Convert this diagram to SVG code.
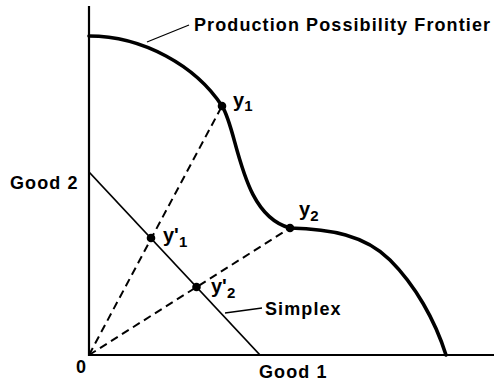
<svg xmlns="http://www.w3.org/2000/svg" width="494" height="383" viewBox="0 0 494 383">
<style>
text{font-family:"Liberation Sans",Arial,Helvetica,sans-serif;font-weight:bold;font-size:18px;letter-spacing:1.1px;fill:#000}
.lbl{font-size:20px;letter-spacing:0}
.sub{font-size:15px;letter-spacing:0}
.axis{stroke:#000;stroke-width:2.2;fill:none}
.ppf{stroke:#000;stroke-width:3.6;fill:none;stroke-linecap:round}
.thin{stroke:#000;stroke-width:1.8;fill:none}
.lead{stroke:#000;stroke-width:1.3;fill:none}
.dash{stroke:#000;stroke-width:2;fill:none;stroke-dasharray:8 5}
.dot{fill:#000}
</style>
<rect width="494" height="383" fill="#fff"/>
<g id="axes">
<line class="axis" x1="89" y1="6" x2="89" y2="356"/>
<line class="axis" x1="88" y1="355" x2="494" y2="355"/>
</g>
<g id="connectors">
<line class="dash" x1="89" y1="355" x2="222" y2="106"/>
<line class="dash" x1="89" y1="355" x2="290" y2="228"/>
<line class="lead" x1="147" y1="42" x2="189" y2="25"/>
<line class="lead" x1="225" y1="313" x2="262" y2="308"/>
</g>
<g id="frontier">
<path class="ppf" d="M89,36 C143,36 196,66 222,106 C238,130 240,215 290,228 C330,229 365,235 390,260 C415,285 435,320 446,355"/>
</g>
<g id="simplex">
<line class="thin" x1="89" y1="172" x2="260" y2="355"/>
</g>
<g id="y1"><circle class="dot" cx="222" cy="106" r="4.3"/><text class="lbl" x="233" y="107">y<tspan class="sub" dy="4">1</tspan></text></g>
<g id="y2"><circle class="dot" cx="290" cy="228" r="4.3"/><text class="lbl" x="299" y="216">y<tspan class="sub" dy="5">2</tspan></text></g>
<g id="y1p"><circle class="dot" cx="151" cy="238" r="4.3"/><text class="lbl" x="163" y="242">y'<tspan class="sub" dy="5">1</tspan></text></g>
<g id="y2p"><circle class="dot" cx="196.5" cy="287" r="4.3"/><text class="lbl" x="211" y="293">y'<tspan class="sub" dy="5">2</tspan></text></g>
<g id="labels">
<text x="194" y="31">Production Possibility Frontier</text>
<text x="265" y="315">Simplex</text>
<text x="10" y="189">Good 2</text>
<text x="259" y="378">Good 1</text>
<text x="76" y="373">0</text>
</g>
</svg>
